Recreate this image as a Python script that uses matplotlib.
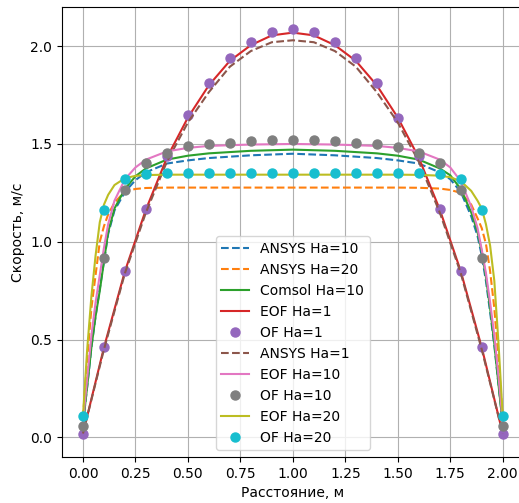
import matplotlib
matplotlib.use("Agg")
import matplotlib.pyplot as plt

# Sampling positions across the channel, m
x_of = [0.0, 0.1, 0.2, 0.3, 0.4, 0.5, 0.6, 0.7, 0.8, 0.9, 1.0,
        1.1, 1.2, 1.3, 1.4, 1.5, 1.6, 1.7, 1.8, 1.9, 2.0]
x_bl = [0.0, 0.02, 0.04, 0.06, 0.08, 0.10, 0.12, 0.15, 0.20, 0.25, 0.30,
        0.40, 0.50, 0.60, 0.80, 1.00, 1.20, 1.40, 1.50, 1.60, 1.70, 1.75,
        1.80, 1.85, 1.88, 1.90, 1.92, 1.94, 1.96, 1.98, 2.00]

# Ha = 1 profiles
eof_ha1 = [0.02, 0.46, 0.85, 1.165, 1.43, 1.635, 1.80, 1.925, 2.005, 2.055, 2.069,
           2.055, 2.005, 1.925, 1.80, 1.635, 1.43, 1.165, 0.85, 0.46, 0.02]
ansys_ha1 = [0.02, 0.45, 0.84, 1.15, 1.41, 1.61, 1.765, 1.895, 1.975, 2.02, 2.03,
             2.02, 1.975, 1.895, 1.765, 1.61, 1.41, 1.15, 0.84, 0.45, 0.02]
of_ha1 = [0.02, 0.46, 0.85, 1.17, 1.44, 1.646, 1.811, 1.939, 2.021, 2.072, 2.089,
          2.072, 2.021, 1.939, 1.811, 1.634, 1.44, 1.169, 0.849, 0.462, 0.02]

# Ha = 10 profiles
ansys_ha10 = [0.07, 0.26, 0.46, 0.62, 0.76, 0.90, 1.04, 1.16, 1.255, 1.315, 1.355,
              1.40, 1.416, 1.428, 1.442, 1.45, 1.442, 1.428, 1.416, 1.40, 1.355, 1.32,
              1.255, 1.13, 1.03, 0.93, 0.80, 0.64, 0.47, 0.27, 0.07]
comsol_ha10 = [0.07, 0.26, 0.46, 0.62, 0.75, 0.90, 1.05, 1.17, 1.27, 1.335, 1.375,
               1.42, 1.44, 1.452, 1.465, 1.471, 1.465, 1.452, 1.44, 1.42, 1.375, 1.34,
               1.27, 1.15, 1.05, 0.95, 0.82, 0.66, 0.48, 0.27, 0.07]
eof_ha10 = [0.08, 0.30, 0.52, 0.69, 0.83, 0.97, 1.09, 1.21, 1.32, 1.38, 1.42,
            1.462, 1.48, 1.49, 1.497, 1.50, 1.497, 1.49, 1.48, 1.462, 1.42, 1.38,
            1.31, 1.18, 1.07, 0.96, 0.84, 0.69, 0.52, 0.31, 0.08]
of_ha10 = [0.06, 0.918, 1.266, 1.402, 1.453, 1.488, 1.498, 1.507, 1.513, 1.518, 1.518,
           1.518, 1.513, 1.507, 1.498, 1.484, 1.453, 1.402, 1.266, 0.918, 0.061]

# Ha = 20 profiles
ansys_ha20 = [0.10, 0.40, 0.66, 0.83, 1.00, 1.08, 1.14, 1.20, 1.258, 1.27, 1.275,
              1.277, 1.277, 1.277, 1.277, 1.277, 1.277, 1.277, 1.277, 1.276, 1.272, 1.265,
              1.25, 1.19, 1.12, 1.07, 0.99, 0.85, 0.66, 0.40, 0.10]
eof_ha20 = [0.11, 0.45, 0.72, 0.93, 1.10, 1.19, 1.24, 1.29, 1.325, 1.337, 1.341,
            1.343, 1.343, 1.343, 1.343, 1.343, 1.343, 1.343, 1.343, 1.342, 1.338, 1.33,
            1.31, 1.26, 1.21, 1.17, 1.09, 0.98, 0.80, 0.48, 0.11]
of_ha20 = [0.112, 1.164, 1.322, 1.345, 1.351, 1.351, 1.351, 1.351, 1.351, 1.352, 1.353,
           1.352, 1.351, 1.351, 1.351, 1.351, 1.351, 1.347, 1.322, 1.164, 0.112]

fig = plt.figure(figsize=(5.19, 5.03), dpi=100)
ax = fig.add_axes([62 / 519, 46 / 503, 461.7 / 519, 450 / 503])

ms = 6.5
ax.plot(x_bl, ansys_ha10, "--", color="C0", label="ANSYS Ha=10")
ax.plot(x_bl, ansys_ha20, "--", color="C1", label="ANSYS Ha=20")
ax.plot(x_bl, comsol_ha10, "-", color="C2", label="Comsol Ha=10")
ax.plot(x_of, eof_ha1, "-", color="C3", label="EOF Ha=1")
ax.plot(x_of, of_ha1, "o", color="C4", markersize=ms, label="OF Ha=1")
ax.plot(x_of, ansys_ha1, "--", color="C5", label="ANSYS Ha=1")
ax.plot(x_bl, eof_ha10, "-", color="C6", label="EOF Ha=10")
ax.plot(x_of, of_ha10, "o", color="C7", markersize=ms, label="OF Ha=10")
ax.plot(x_bl, eof_ha20, "-", color="C8", label="EOF Ha=20")
ax.plot(x_of, of_ha20, "o", color="C9", markersize=ms, label="OF Ha=20")

ax.set_xlim(-0.1, 2.1)
ax.set_ylim(-0.1, 2.2)
ax.set_xticks([0.0, 0.25, 0.5, 0.75, 1.0, 1.25, 1.5, 1.75, 2.0])
ax.set_yticks([0.0, 0.5, 1.0, 1.5, 2.0])
ax.grid(True)
ax.set_xlabel("Расстояние, м")
ax.set_ylabel("Скорость, м/с")
ax.legend(loc="lower center")

fig.savefig("out.png", dpi=100)
